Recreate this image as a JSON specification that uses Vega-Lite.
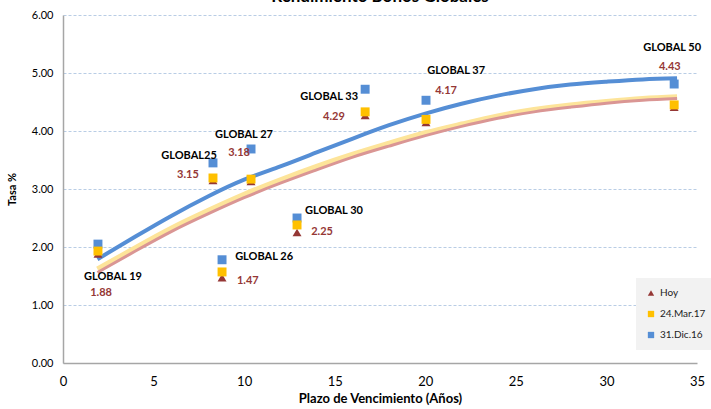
{
  "$schema": "https://vega.github.io/schema/vega-lite/v6.json",
  "width": 634,
  "height": 348,
  "autosize": {"type": "none"},
  "padding": {"left": 63, "top": 15, "right": 14, "bottom": 46},
  "background": "white",
  "title": {"text": "Rendimiento Bonos Globales", "fontSize": 17, "font": "Lato", "fontWeight": "bold", "anchor": "middle", "color": "black", "offset": 3},
  "config": {
    "view": {"stroke": null},
    "font": "Lato",
    "legend": {"orient": "none", "legendX": 573, "legendY": 263, "fillColor": "#F2F2F2", "padding": 10, "rowPadding": 11, "labelFontSize": 10, "labelFont": "Lato", "labelColor": "#222222", "symbolSize": 40, "symbolStrokeWidth": 0}
  },
  "datasets": {
    "puntos": [
      {"bono": "GLOBAL 19", "plazo": 1.93, "tasa": 1.88, "serie": "Hoy"},
      {"bono": "GLOBAL 19", "plazo": 1.93, "tasa": 1.93, "serie": "24.Mar.17"},
      {"bono": "GLOBAL 19", "plazo": 1.93, "tasa": 2.05, "serie": "31.Dic.16"},
      {"bono": "GLOBAL25", "plazo": 8.28, "tasa": 3.15, "serie": "Hoy"},
      {"bono": "GLOBAL25", "plazo": 8.28, "tasa": 3.19, "serie": "24.Mar.17"},
      {"bono": "GLOBAL25", "plazo": 8.28, "tasa": 3.45, "serie": "31.Dic.16"},
      {"bono": "GLOBAL 27", "plazo": 10.38, "tasa": 3.13, "serie": "Hoy"},
      {"bono": "GLOBAL 27", "plazo": 10.38, "tasa": 3.17, "serie": "24.Mar.17"},
      {"bono": "GLOBAL 27", "plazo": 10.38, "tasa": 3.69, "serie": "31.Dic.16"},
      {"bono": "GLOBAL 26", "plazo": 8.78, "tasa": 1.47, "serie": "Hoy"},
      {"bono": "GLOBAL 26", "plazo": 8.78, "tasa": 1.57, "serie": "24.Mar.17"},
      {"bono": "GLOBAL 26", "plazo": 8.78, "tasa": 1.78, "serie": "31.Dic.16"},
      {"bono": "GLOBAL 30", "plazo": 12.92, "tasa": 2.25, "serie": "Hoy"},
      {"bono": "GLOBAL 30", "plazo": 12.92, "tasa": 2.38, "serie": "24.Mar.17"},
      {"bono": "GLOBAL 30", "plazo": 12.92, "tasa": 2.50, "serie": "31.Dic.16"},
      {"bono": "GLOBAL 33", "plazo": 16.68, "tasa": 4.27, "serie": "Hoy"},
      {"bono": "GLOBAL 33", "plazo": 16.68, "tasa": 4.33, "serie": "24.Mar.17"},
      {"bono": "GLOBAL 33", "plazo": 16.68, "tasa": 4.72, "serie": "31.Dic.16"},
      {"bono": "GLOBAL 37", "plazo": 20.04, "tasa": 4.15, "serie": "Hoy"},
      {"bono": "GLOBAL 37", "plazo": 20.04, "tasa": 4.20, "serie": "24.Mar.17"},
      {"bono": "GLOBAL 37", "plazo": 20.04, "tasa": 4.53, "serie": "31.Dic.16"},
      {"bono": "GLOBAL 50", "plazo": 33.74, "tasa": 4.41, "serie": "Hoy"},
      {"bono": "GLOBAL 50", "plazo": 33.74, "tasa": 4.45, "serie": "24.Mar.17"},
      {"bono": "GLOBAL 50", "plazo": 33.74, "tasa": 4.81, "serie": "31.Dic.16"}
    ],
    "curvas": [
      {"serie": "31.Dic.16", "plazo": 1.9, "tasa": 1.79},
      {"serie": "31.Dic.16", "plazo": 4, "tasa": 2.18},
      {"serie": "31.Dic.16", "plazo": 6, "tasa": 2.54},
      {"serie": "31.Dic.16", "plazo": 8, "tasa": 2.87},
      {"serie": "31.Dic.16", "plazo": 10, "tasa": 3.16},
      {"serie": "31.Dic.16", "plazo": 12, "tasa": 3.39},
      {"serie": "31.Dic.16", "plazo": 14, "tasa": 3.63},
      {"serie": "31.Dic.16", "plazo": 16, "tasa": 3.87},
      {"serie": "31.Dic.16", "plazo": 18, "tasa": 4.10},
      {"serie": "31.Dic.16", "plazo": 20, "tasa": 4.30},
      {"serie": "31.Dic.16", "plazo": 22, "tasa": 4.47},
      {"serie": "31.Dic.16", "plazo": 24, "tasa": 4.61},
      {"serie": "31.Dic.16", "plazo": 26, "tasa": 4.72},
      {"serie": "31.Dic.16", "plazo": 28, "tasa": 4.80},
      {"serie": "31.Dic.16", "plazo": 30, "tasa": 4.85},
      {"serie": "31.Dic.16", "plazo": 32, "tasa": 4.89},
      {"serie": "31.Dic.16", "plazo": 33.9, "tasa": 4.91},
      {"serie": "24.Mar.17", "plazo": 1.9, "tasa": 1.62},
      {"serie": "24.Mar.17", "plazo": 4, "tasa": 1.99},
      {"serie": "24.Mar.17", "plazo": 6, "tasa": 2.33},
      {"serie": "24.Mar.17", "plazo": 8, "tasa": 2.63},
      {"serie": "24.Mar.17", "plazo": 10, "tasa": 2.91},
      {"serie": "24.Mar.17", "plazo": 12, "tasa": 3.16},
      {"serie": "24.Mar.17", "plazo": 14, "tasa": 3.39},
      {"serie": "24.Mar.17", "plazo": 16, "tasa": 3.60},
      {"serie": "24.Mar.17", "plazo": 18, "tasa": 3.79},
      {"serie": "24.Mar.17", "plazo": 20, "tasa": 3.97},
      {"serie": "24.Mar.17", "plazo": 22, "tasa": 4.12},
      {"serie": "24.Mar.17", "plazo": 24, "tasa": 4.26},
      {"serie": "24.Mar.17", "plazo": 26, "tasa": 4.37},
      {"serie": "24.Mar.17", "plazo": 28, "tasa": 4.45},
      {"serie": "24.Mar.17", "plazo": 30, "tasa": 4.51},
      {"serie": "24.Mar.17", "plazo": 32, "tasa": 4.56},
      {"serie": "24.Mar.17", "plazo": 33.9, "tasa": 4.59},
      {"serie": "Hoy", "plazo": 1.9, "tasa": 1.56},
      {"serie": "Hoy", "plazo": 4, "tasa": 1.93},
      {"serie": "Hoy", "plazo": 6, "tasa": 2.27},
      {"serie": "Hoy", "plazo": 8, "tasa": 2.57},
      {"serie": "Hoy", "plazo": 10, "tasa": 2.85},
      {"serie": "Hoy", "plazo": 12, "tasa": 3.10},
      {"serie": "Hoy", "plazo": 14, "tasa": 3.33},
      {"serie": "Hoy", "plazo": 16, "tasa": 3.55},
      {"serie": "Hoy", "plazo": 18, "tasa": 3.74},
      {"serie": "Hoy", "plazo": 20, "tasa": 3.92},
      {"serie": "Hoy", "plazo": 22, "tasa": 4.08},
      {"serie": "Hoy", "plazo": 24, "tasa": 4.22},
      {"serie": "Hoy", "plazo": 26, "tasa": 4.33},
      {"serie": "Hoy", "plazo": 28, "tasa": 4.41},
      {"serie": "Hoy", "plazo": 30, "tasa": 4.48},
      {"serie": "Hoy", "plazo": 32, "tasa": 4.53},
      {"serie": "Hoy", "plazo": 33.9, "tasa": 4.56}
    ],
    "nombres": [
      {"texto": "GLOBAL 19", "plazo": 2.76, "tasa": 1.48},
      {"texto": "GLOBAL25", "plazo": 6.96, "tasa": 3.57},
      {"texto": "GLOBAL 27", "plazo": 9.99, "tasa": 3.93},
      {"texto": "GLOBAL 26", "plazo": 11.1, "tasa": 1.83},
      {"texto": "GLOBAL 30", "plazo": 14.96, "tasa": 2.62},
      {"texto": "GLOBAL 33", "plazo": 14.69, "tasa": 4.59},
      {"texto": "GLOBAL 37", "plazo": 21.7, "tasa": 5.03},
      {"texto": "GLOBAL 50", "plazo": 33.63, "tasa": 5.43}
    ],
    "valores": [
      {"texto": "1.88", "plazo": 2.1, "tasa": 1.21},
      {"texto": "3.15", "plazo": 6.9, "tasa": 3.24},
      {"texto": "3.18", "plazo": 9.72, "tasa": 3.62},
      {"texto": "1.47", "plazo": 10.2, "tasa": 1.41},
      {"texto": "2.25", "plazo": 14.3, "tasa": 2.26},
      {"texto": "4.29", "plazo": 14.96, "tasa": 4.24},
      {"texto": "4.17", "plazo": 21.15, "tasa": 4.69},
      {"texto": "4.43", "plazo": 33.5, "tasa": 5.10}
    ]
  },
  "layer": [
    {
      "data": {"name": "curvas"},
      "transform": [{"filter": "datum.serie === '24.Mar.17'"}],
      "mark": {"type": "line", "color": "#FDE49A", "strokeWidth": 5, "interpolate": "natural"},
      "encoding": {
        "x": {"field": "plazo", "type": "quantitative", "scale": {"domain": [0, 35]},
          "axis": {"values": [0, 5, 10, 15, 20, 25, 30, 35], "grid": false, "ticks": false, "domainColor": "#A6A6A6", "domainWidth": 1.5, "labelFontSize": 13, "labelColor": "black", "labelPadding": 12, "title": "Plazo de Vencimiento  (Años)", "titleFontSize": 13, "titleFontWeight": "bold", "titleColor": "black", "titlePadding": 4, "labelFlush": false}},
        "y": {"field": "tasa", "type": "quantitative", "scale": {"domain": [0, 6]},
          "axis": {"values": [0, 1, 2, 3, 4, 5, 6], "format": ".2f", "grid": true, "gridColor": "#B9CDE5", "gridDash": [3, 2], "gridWidth": 1, "ticks": false, "domainColor": "#A6A6A6", "domainWidth": 1.5, "labelFontSize": 11, "labelColor": "black", "labelPadding": 10, "title": "Tasa %", "titleFontSize": 11, "titleFontWeight": "bold", "titleColor": "black", "titlePadding": 14}}
      }
    },
    {
      "data": {"name": "curvas"},
      "transform": [{"filter": "datum.serie === 'Hoy'"}],
      "mark": {"type": "line", "color": "#DA9694", "strokeWidth": 3, "interpolate": "natural"},
      "encoding": {
        "x": {"field": "plazo", "type": "quantitative"},
        "y": {"field": "tasa", "type": "quantitative"}
      }
    },
    {
      "data": {"name": "curvas"},
      "transform": [{"filter": "datum.serie === '31.Dic.16'"}],
      "mark": {"type": "line", "color": "#558ED5", "strokeWidth": 4, "interpolate": "natural"},
      "encoding": {
        "x": {"field": "plazo", "type": "quantitative"},
        "y": {"field": "tasa", "type": "quantitative"}
      }
    },
    {
      "data": {"name": "puntos"},
      "mark": {"type": "point", "filled": true, "opacity": 1, "size": 80},
      "encoding": {
        "x": {"field": "plazo", "type": "quantitative"},
        "y": {"field": "tasa", "type": "quantitative"},
        "color": {"field": "serie", "type": "nominal", "title": null,
          "scale": {"domain": ["Hoy", "24.Mar.17", "31.Dic.16"], "range": ["#953735", "#FFC000", "#558ED5"]}},
        "shape": {"field": "serie", "type": "nominal", "title": null,
          "scale": {"domain": ["Hoy", "24.Mar.17", "31.Dic.16"], "range": ["triangle-up", "square", "square"]}},
        "order": {"field": "serie", "sort": "descending"}
      }
    },
    {
      "data": {"name": "nombres"},
      "mark": {"type": "text", "fontSize": 11, "fontWeight": "bold", "color": "black", "font": "Lato"},
      "encoding": {
        "x": {"field": "plazo", "type": "quantitative"},
        "y": {"field": "tasa", "type": "quantitative"},
        "text": {"field": "texto"}
      }
    },
    {
      "data": {"name": "valores"},
      "mark": {"type": "text", "fontSize": 11, "fontWeight": "bold", "color": "#953735", "font": "Lato"},
      "encoding": {
        "x": {"field": "plazo", "type": "quantitative"},
        "y": {"field": "tasa", "type": "quantitative"},
        "text": {"field": "texto"}
      }
    }
  ]
}
